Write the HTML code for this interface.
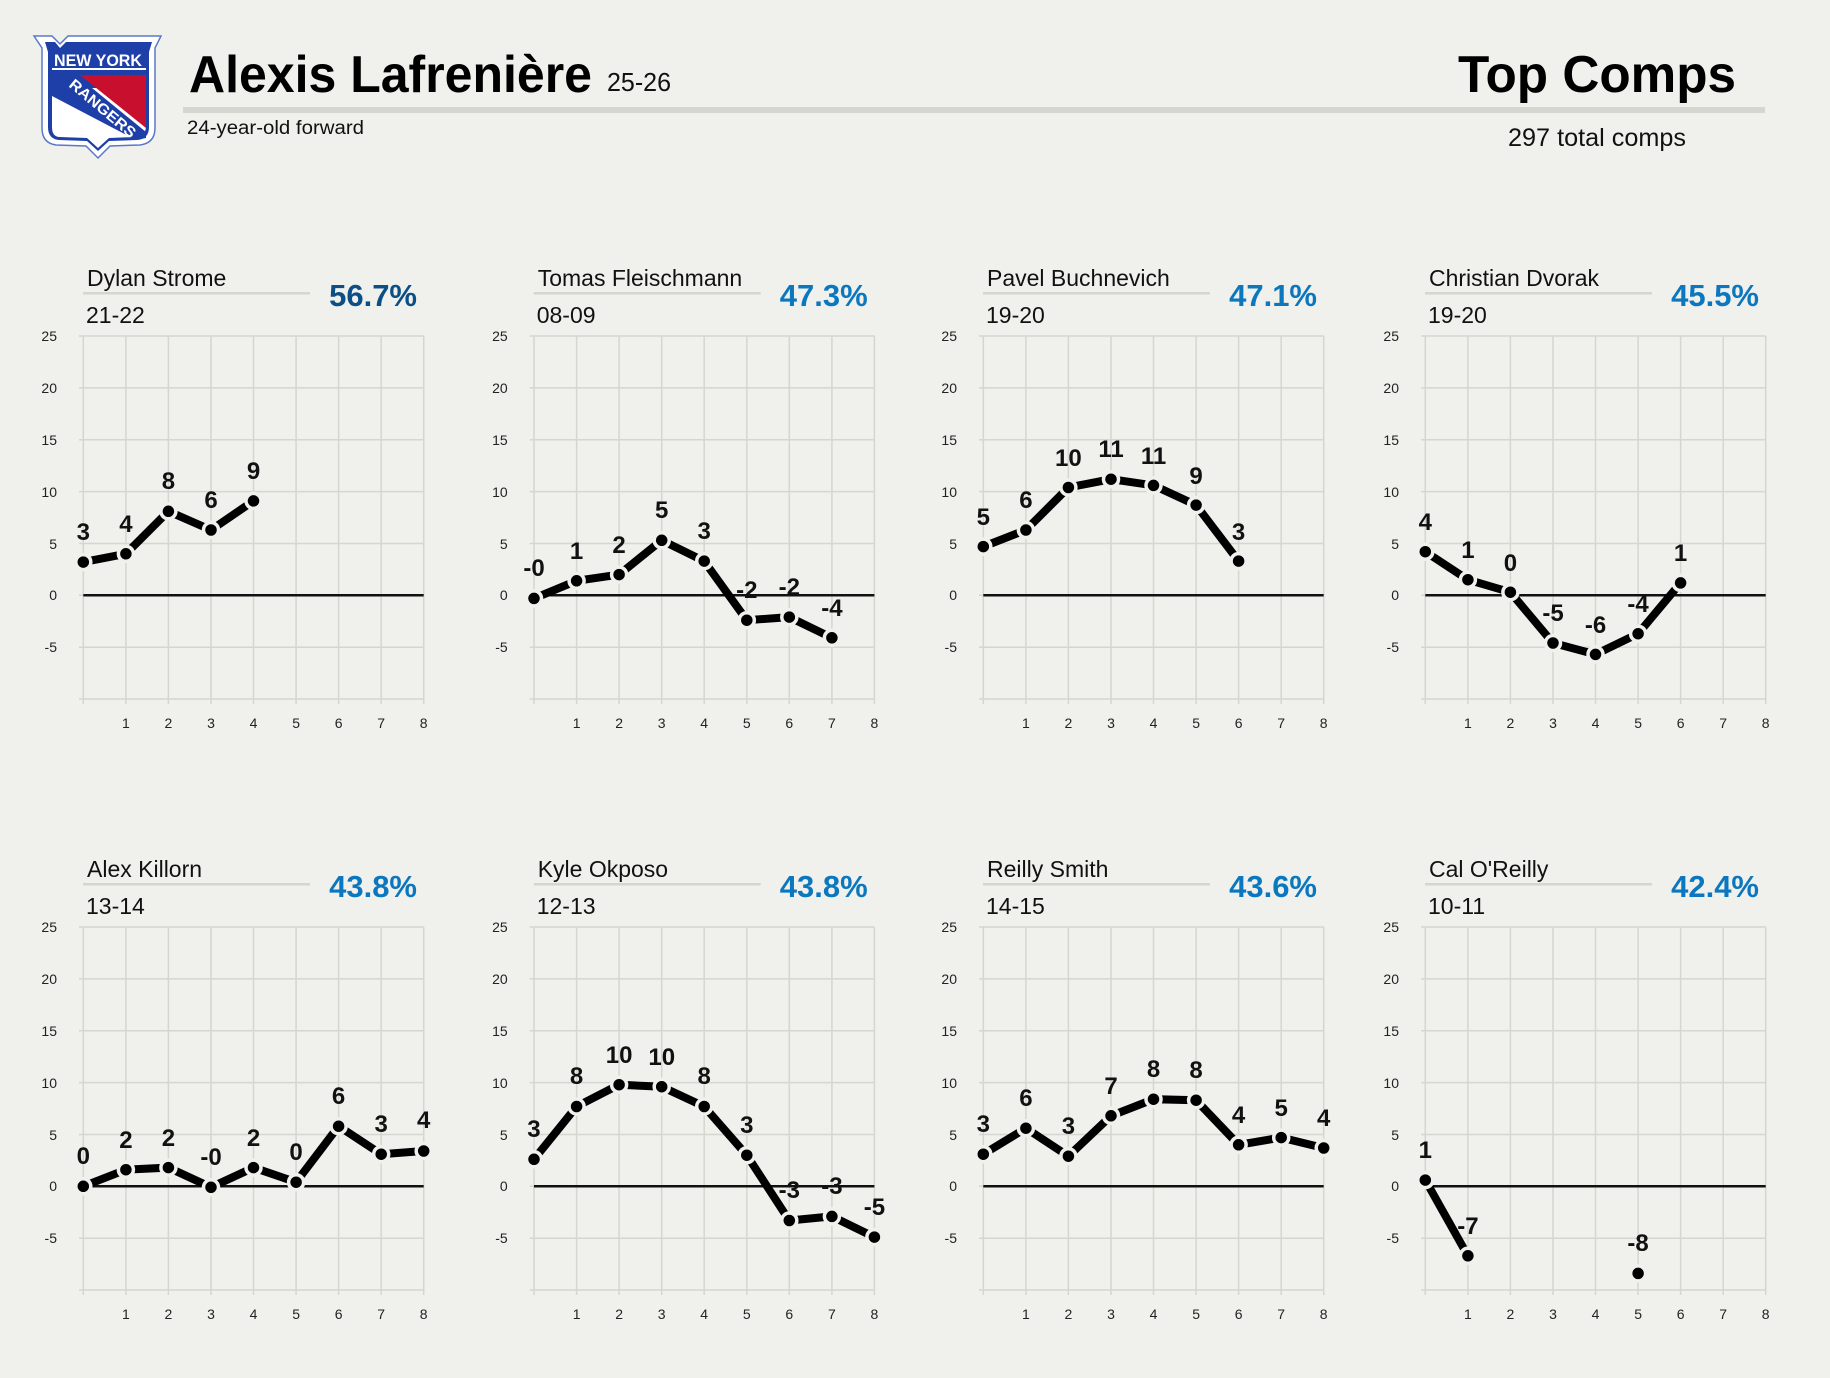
<!DOCTYPE html>
<html><head><meta charset="utf-8"><style>
html,body{margin:0;padding:0;background:#f0f0ec}
svg{display:block}
text{font-family:"Liberation Sans",sans-serif}
.yl{font-size:14px;text-anchor:end;fill:#222}
.xl{font-size:14px;text-anchor:middle;fill:#222}
.nm{font-size:23px;fill:#111}
.pc{font-size:31px;font-weight:bold;text-anchor:end;fill:#0a77bf}
.lb{font-size:24px;font-weight:bold;text-anchor:middle;fill:#111}
.ln{fill:none;stroke:#000;stroke-width:8}
.dt circle{fill:#000;stroke:#f0f0ec;stroke-width:3.5}
</style></head><body>
<svg width="1830" height="1378" viewBox="0 0 1830 1378" xmlns="http://www.w3.org/2000/svg">
<defs>
<g id="grid">
 <g stroke="#d6d6d0" stroke-width="1.5">
  <line x1="83.3" y1="336" x2="83.3" y2="704"/><line x1="125.9" y1="336" x2="125.9" y2="704"/><line x1="168.4" y1="336" x2="168.4" y2="704"/><line x1="211" y1="336" x2="211" y2="704"/><line x1="253.5" y1="336" x2="253.5" y2="704"/><line x1="296.1" y1="336" x2="296.1" y2="704"/><line x1="338.6" y1="336" x2="338.6" y2="704"/><line x1="381.2" y1="336" x2="381.2" y2="704"/><line x1="423.7" y1="336" x2="423.7" y2="704"/>
  <line x1="79" y1="336" x2="423.7" y2="336"/><line x1="79" y1="387.9" x2="423.7" y2="387.9"/><line x1="79" y1="439.8" x2="423.7" y2="439.8"/><line x1="79" y1="491.6" x2="423.7" y2="491.6"/><line x1="79" y1="543.5" x2="423.7" y2="543.5"/><line x1="79" y1="595.3" x2="423.7" y2="595.3"/><line x1="79" y1="647.2" x2="423.7" y2="647.2"/><line x1="79" y1="699" x2="423.7" y2="699"/>
 </g>
 <line x1="83.3" y1="595.3" x2="423.7" y2="595.3" stroke="#111" stroke-width="2.5"/>
</g>
</defs>

<g>
 <path d="M34,36 L52,36 L60,44 L68,36 L150,36 L161,36 L155,48 L155,128 Q155,143 140,145 L110,146 L98,158 L86,146 L56,145 Q42,143 42,128 L42,48 Z" fill="#fff" stroke="#5a78c8" stroke-width="1.5"/>
 <path d="M45,42 L55,42 L60,48 L66,42 L152,42 L149,52 L149,127 Q149,139 137,140 L109,141 L98,151 L87,141 L59,140 Q48,139 48,127 L48,52 Z" fill="#1f3fa8"/>
 <path d="M52,88 L146,88 L146,125 Q146,137 136,137 L109,138 L98,148 L87,138 L60,137 Q52,137 52,127 Z" fill="#fff"/>
 <path d="M80,75 L146,75 L146,128 Z" fill="#c8102e"/>
 <path d="M52,84 L70,70 L146,132 L146,138 L136,140 L52,96 Z" fill="#1f3fa8"/>
 <line x1="52" y1="69" x2="146" y2="69" stroke="#fff" stroke-width="2"/>
 <text x="98" y="66" font-size="17" font-weight="bold" fill="#fff" text-anchor="middle" textLength="88" lengthAdjust="spacingAndGlyphs">NEW YORK</text>
 <text x="0" y="0" font-size="15" font-weight="bold" fill="#fff" transform="translate(68,86) rotate(40)" textLength="82" lengthAdjust="spacingAndGlyphs">RANGERS</text>

 <text x="189" y="92" font-size="52" font-weight="bold" fill="#000" textLength="403" lengthAdjust="spacingAndGlyphs">Alexis Lafrenière</text>
 <text x="607" y="91" font-size="26" fill="#111" textLength="64" lengthAdjust="spacingAndGlyphs">25-26</text>
 <rect x="183" y="107" width="1582" height="6" fill="#d6d6d0"/>
 <text x="187" y="134" font-size="19" fill="#111" textLength="177" lengthAdjust="spacingAndGlyphs">24-year-old forward</text>
 <text x="1458" y="92" font-size="52" font-weight="bold" fill="#000" textLength="278" lengthAdjust="spacingAndGlyphs">Top Comps</text>
 <text x="1508" y="146" font-size="25" fill="#111" textLength="178" lengthAdjust="spacingAndGlyphs">297 total comps</text>
</g>

<g>
 <use href="#grid"/>
 <text class="nm" x="87" y="286">Dylan Strome</text><rect x="83" y="292" width="227" height="2.5" fill="#d6d6d0"/>
 <text class="nm" x="86" y="323">21-22</text><text class="pc" x="417" y="306" style="fill:#0c4f87">56.7%</text>
 <text class="yl" x="57" y="341">25</text><text class="yl" x="57" y="393">20</text><text class="yl" x="57" y="445">15</text><text class="yl" x="57" y="497">10</text><text class="yl" x="57" y="549">5</text><text class="yl" x="57" y="600">0</text><text class="yl" x="57" y="652">-5</text>
 <text class="xl" x="125.9" y="728">1</text><text class="xl" x="168.4" y="728">2</text><text class="xl" x="211" y="728">3</text><text class="xl" x="253.5" y="728">4</text><text class="xl" x="296.1" y="728">5</text><text class="xl" x="338.6" y="728">6</text><text class="xl" x="381.2" y="728">7</text><text class="xl" x="423.7" y="728">8</text>
 <text class="lb" x="83.3" y="540">3</text><text class="lb" x="125.9" y="532">4</text><text class="lb" x="168.4" y="489">8</text><text class="lb" x="211" y="508">6</text><text class="lb" x="253.5" y="479">9</text>
 <polyline class="ln" points="83.3,562.1 125.9,553.8 168.4,511.3 211,530 253.5,500.9"/>
 <g class="dt"><circle cx="83.3" cy="562.1" r="7.5"/><circle cx="125.9" cy="553.8" r="7.5"/><circle cx="168.4" cy="511.3" r="7.5"/><circle cx="211" cy="530" r="7.5"/><circle cx="253.5" cy="500.9" r="7.5"/></g>
</g>

<g transform="translate(450.7,0)">
 <use href="#grid"/>
 <text class="nm" x="87" y="286">Tomas Fleischmann</text><rect x="83" y="292" width="227" height="2.5" fill="#d6d6d0"/>
 <text class="nm" x="86" y="323">08-09</text><text class="pc" x="417" y="306">47.3%</text>
 <text class="yl" x="57" y="341">25</text><text class="yl" x="57" y="393">20</text><text class="yl" x="57" y="445">15</text><text class="yl" x="57" y="497">10</text><text class="yl" x="57" y="549">5</text><text class="yl" x="57" y="600">0</text><text class="yl" x="57" y="652">-5</text>
 <text class="xl" x="125.9" y="728">1</text><text class="xl" x="168.4" y="728">2</text><text class="xl" x="211" y="728">3</text><text class="xl" x="253.5" y="728">4</text><text class="xl" x="296.1" y="728">5</text><text class="xl" x="338.6" y="728">6</text><text class="xl" x="381.2" y="728">7</text><text class="xl" x="423.7" y="728">8</text>
 <text class="lb" x="83.3" y="576">-0</text><text class="lb" x="125.9" y="559">1</text><text class="lb" x="168.4" y="553">2</text><text class="lb" x="211" y="518">5</text><text class="lb" x="253.5" y="539">3</text><text class="lb" x="296.1" y="598">-2</text><text class="lb" x="338.6" y="595">-2</text><text class="lb" x="381.2" y="616">-4</text>
 <polyline class="ln" points="83.3,598.4 125.9,580.8 168.4,574.6 211,540.3 253.5,561.1 296.1,620.2 338.6,617.1 381.2,637.8"/>
 <g class="dt"><circle cx="83.3" cy="598.4" r="7.5"/><circle cx="125.9" cy="580.8" r="7.5"/><circle cx="168.4" cy="574.6" r="7.5"/><circle cx="211" cy="540.3" r="7.5"/><circle cx="253.5" cy="561.1" r="7.5"/><circle cx="296.1" cy="620.2" r="7.5"/><circle cx="338.6" cy="617.1" r="7.5"/><circle cx="381.2" cy="637.8" r="7.5"/></g>
</g>

<g transform="translate(900,0)">
 <use href="#grid"/>
 <text class="nm" x="87" y="286">Pavel Buchnevich</text><rect x="83" y="292" width="227" height="2.5" fill="#d6d6d0"/>
 <text class="nm" x="86" y="323">19-20</text><text class="pc" x="417" y="306">47.1%</text>
 <text class="yl" x="57" y="341">25</text><text class="yl" x="57" y="393">20</text><text class="yl" x="57" y="445">15</text><text class="yl" x="57" y="497">10</text><text class="yl" x="57" y="549">5</text><text class="yl" x="57" y="600">0</text><text class="yl" x="57" y="652">-5</text>
 <text class="xl" x="125.9" y="728">1</text><text class="xl" x="168.4" y="728">2</text><text class="xl" x="211" y="728">3</text><text class="xl" x="253.5" y="728">4</text><text class="xl" x="296.1" y="728">5</text><text class="xl" x="338.6" y="728">6</text><text class="xl" x="381.2" y="728">7</text><text class="xl" x="423.7" y="728">8</text>
 <text class="lb" x="83.3" y="525">5</text><text class="lb" x="125.9" y="508">6</text><text class="lb" x="168.4" y="466">10</text><text class="lb" x="211" y="457">11</text><text class="lb" x="253.5" y="464">11</text><text class="lb" x="296.1" y="484">9</text><text class="lb" x="338.6" y="540">3</text>
 <polyline class="ln" points="83.3,546.6 125.9,530 168.4,487.5 211,479.2 253.5,485.4 296.1,505.1 338.6,561.1"/>
 <g class="dt"><circle cx="83.3" cy="546.6" r="7.5"/><circle cx="125.9" cy="530" r="7.5"/><circle cx="168.4" cy="487.5" r="7.5"/><circle cx="211" cy="479.2" r="7.5"/><circle cx="253.5" cy="485.4" r="7.5"/><circle cx="296.1" cy="505.1" r="7.5"/><circle cx="338.6" cy="561.1" r="7.5"/></g>
</g>

<g transform="translate(1342,0)">
 <use href="#grid"/>
 <text class="nm" x="87" y="286">Christian Dvorak</text><rect x="83" y="292" width="227" height="2.5" fill="#d6d6d0"/>
 <text class="nm" x="86" y="323">19-20</text><text class="pc" x="417" y="306">45.5%</text>
 <text class="yl" x="57" y="341">25</text><text class="yl" x="57" y="393">20</text><text class="yl" x="57" y="445">15</text><text class="yl" x="57" y="497">10</text><text class="yl" x="57" y="549">5</text><text class="yl" x="57" y="600">0</text><text class="yl" x="57" y="652">-5</text>
 <text class="xl" x="125.9" y="728">1</text><text class="xl" x="168.4" y="728">2</text><text class="xl" x="211" y="728">3</text><text class="xl" x="253.5" y="728">4</text><text class="xl" x="296.1" y="728">5</text><text class="xl" x="338.6" y="728">6</text><text class="xl" x="381.2" y="728">7</text><text class="xl" x="423.7" y="728">8</text>
 <text class="lb" x="83.3" y="530">4</text><text class="lb" x="125.9" y="558">1</text><text class="lb" x="168.4" y="571">0</text><text class="lb" x="211" y="621">-5</text><text class="lb" x="253.5" y="633">-6</text><text class="lb" x="296.1" y="612">-4</text><text class="lb" x="338.6" y="561">1</text>
 <polyline class="ln" points="83.3,551.7 125.9,579.7 168.4,592.2 211,643 253.5,654.4 296.1,633.7 338.6,582.9"/>
 <g class="dt"><circle cx="83.3" cy="551.7" r="7.5"/><circle cx="125.9" cy="579.7" r="7.5"/><circle cx="168.4" cy="592.2" r="7.5"/><circle cx="211" cy="643" r="7.5"/><circle cx="253.5" cy="654.4" r="7.5"/><circle cx="296.1" cy="633.7" r="7.5"/><circle cx="338.6" cy="582.9" r="7.5"/></g>
</g>

<g transform="translate(0,591)">
 <use href="#grid"/>
 <text class="nm" x="87" y="286">Alex Killorn</text><rect x="83" y="292" width="227" height="2.5" fill="#d6d6d0"/>
 <text class="nm" x="86" y="323">13-14</text><text class="pc" x="417" y="306">43.8%</text>
 <text class="yl" x="57" y="341">25</text><text class="yl" x="57" y="393">20</text><text class="yl" x="57" y="445">15</text><text class="yl" x="57" y="497">10</text><text class="yl" x="57" y="549">5</text><text class="yl" x="57" y="600">0</text><text class="yl" x="57" y="652">-5</text>
 <text class="xl" x="125.9" y="728">1</text><text class="xl" x="168.4" y="728">2</text><text class="xl" x="211" y="728">3</text><text class="xl" x="253.5" y="728">4</text><text class="xl" x="296.1" y="728">5</text><text class="xl" x="338.6" y="728">6</text><text class="xl" x="381.2" y="728">7</text><text class="xl" x="423.7" y="728">8</text>
 <text class="lb" x="83.3" y="573">0</text><text class="lb" x="125.9" y="557">2</text><text class="lb" x="168.4" y="555">2</text><text class="lb" x="211" y="574">-0</text><text class="lb" x="253.5" y="555">2</text><text class="lb" x="296.1" y="569">0</text><text class="lb" x="338.6" y="513">6</text><text class="lb" x="381.2" y="541">3</text><text class="lb" x="423.7" y="537">4</text>
 <polyline class="ln" points="83.3,595.3 125.9,578.7 168.4,576.6 211,596.3 253.5,576.6 296.1,591.2 338.6,535.2 381.2,563.2 423.7,560"/>
 <g class="dt"><circle cx="83.3" cy="595.3" r="7.5"/><circle cx="125.9" cy="578.7" r="7.5"/><circle cx="168.4" cy="576.6" r="7.5"/><circle cx="211" cy="596.3" r="7.5"/><circle cx="253.5" cy="576.6" r="7.5"/><circle cx="296.1" cy="591.2" r="7.5"/><circle cx="338.6" cy="535.2" r="7.5"/><circle cx="381.2" cy="563.2" r="7.5"/><circle cx="423.7" cy="560" r="7.5"/></g>
</g>

<g transform="translate(450.7,591)">
 <use href="#grid"/>
 <text class="nm" x="87" y="286">Kyle Okposo</text><rect x="83" y="292" width="227" height="2.5" fill="#d6d6d0"/>
 <text class="nm" x="86" y="323">12-13</text><text class="pc" x="417" y="306">43.8%</text>
 <text class="yl" x="57" y="341">25</text><text class="yl" x="57" y="393">20</text><text class="yl" x="57" y="445">15</text><text class="yl" x="57" y="497">10</text><text class="yl" x="57" y="549">5</text><text class="yl" x="57" y="600">0</text><text class="yl" x="57" y="652">-5</text>
 <text class="xl" x="125.9" y="728">1</text><text class="xl" x="168.4" y="728">2</text><text class="xl" x="211" y="728">3</text><text class="xl" x="253.5" y="728">4</text><text class="xl" x="296.1" y="728">5</text><text class="xl" x="338.6" y="728">6</text><text class="xl" x="381.2" y="728">7</text><text class="xl" x="423.7" y="728">8</text>
 <text class="lb" x="83.3" y="546">3</text><text class="lb" x="125.9" y="493">8</text><text class="lb" x="168.4" y="472">10</text><text class="lb" x="211" y="474">10</text><text class="lb" x="253.5" y="493">8</text><text class="lb" x="296.1" y="542">3</text><text class="lb" x="338.6" y="607">-3</text><text class="lb" x="381.2" y="603">-3</text><text class="lb" x="423.7" y="624">-5</text>
 <polyline class="ln" points="83.3,568.3 125.9,515.5 168.4,493.7 211,495.7 253.5,515.5 296.1,564.2 338.6,629.5 381.2,625.4 423.7,646.1"/>
 <g class="dt"><circle cx="83.3" cy="568.3" r="7.5"/><circle cx="125.9" cy="515.5" r="7.5"/><circle cx="168.4" cy="493.7" r="7.5"/><circle cx="211" cy="495.7" r="7.5"/><circle cx="253.5" cy="515.5" r="7.5"/><circle cx="296.1" cy="564.2" r="7.5"/><circle cx="338.6" cy="629.5" r="7.5"/><circle cx="381.2" cy="625.4" r="7.5"/><circle cx="423.7" cy="646.1" r="7.5"/></g>
</g>

<g transform="translate(900,591)">
 <use href="#grid"/>
 <text class="nm" x="87" y="286">Reilly Smith</text><rect x="83" y="292" width="227" height="2.5" fill="#d6d6d0"/>
 <text class="nm" x="86" y="323">14-15</text><text class="pc" x="417" y="306">43.6%</text>
 <text class="yl" x="57" y="341">25</text><text class="yl" x="57" y="393">20</text><text class="yl" x="57" y="445">15</text><text class="yl" x="57" y="497">10</text><text class="yl" x="57" y="549">5</text><text class="yl" x="57" y="600">0</text><text class="yl" x="57" y="652">-5</text>
 <text class="xl" x="125.9" y="728">1</text><text class="xl" x="168.4" y="728">2</text><text class="xl" x="211" y="728">3</text><text class="xl" x="253.5" y="728">4</text><text class="xl" x="296.1" y="728">5</text><text class="xl" x="338.6" y="728">6</text><text class="xl" x="381.2" y="728">7</text><text class="xl" x="423.7" y="728">8</text>
 <text class="lb" x="83.3" y="541">3</text><text class="lb" x="125.9" y="515">6</text><text class="lb" x="168.4" y="543">3</text><text class="lb" x="211" y="503">7</text><text class="lb" x="253.5" y="486">8</text><text class="lb" x="296.1" y="487">8</text><text class="lb" x="338.6" y="532">4</text><text class="lb" x="381.2" y="525">5</text><text class="lb" x="423.7" y="535">4</text>
 <polyline class="ln" points="83.3,563.2 125.9,537.2 168.4,565.2 211,524.8 253.5,508.2 296.1,509.2 338.6,553.8 381.2,546.6 423.7,557"/>
 <g class="dt"><circle cx="83.3" cy="563.2" r="7.5"/><circle cx="125.9" cy="537.2" r="7.5"/><circle cx="168.4" cy="565.2" r="7.5"/><circle cx="211" cy="524.8" r="7.5"/><circle cx="253.5" cy="508.2" r="7.5"/><circle cx="296.1" cy="509.2" r="7.5"/><circle cx="338.6" cy="553.8" r="7.5"/><circle cx="381.2" cy="546.6" r="7.5"/><circle cx="423.7" cy="557" r="7.5"/></g>
</g>

<g transform="translate(1342,591)">
 <use href="#grid"/>
 <text class="nm" x="87" y="286">Cal O'Reilly</text><rect x="83" y="292" width="227" height="2.5" fill="#d6d6d0"/>
 <text class="nm" x="86" y="323">10-11</text><text class="pc" x="417" y="306">42.4%</text>
 <text class="yl" x="57" y="341">25</text><text class="yl" x="57" y="393">20</text><text class="yl" x="57" y="445">15</text><text class="yl" x="57" y="497">10</text><text class="yl" x="57" y="549">5</text><text class="yl" x="57" y="600">0</text><text class="yl" x="57" y="652">-5</text>
 <text class="xl" x="125.9" y="728">1</text><text class="xl" x="168.4" y="728">2</text><text class="xl" x="211" y="728">3</text><text class="xl" x="253.5" y="728">4</text><text class="xl" x="296.1" y="728">5</text><text class="xl" x="338.6" y="728">6</text><text class="xl" x="381.2" y="728">7</text><text class="xl" x="423.7" y="728">8</text>
 <text class="lb" x="83.3" y="567">1</text><text class="lb" x="125.9" y="643">-7</text><text class="lb" x="296.1" y="660">-8</text>
 <polyline class="ln" points="83.3,589.1 125.9,664.8"/>
 <g class="dt"><circle cx="83.3" cy="589.1" r="7.5"/><circle cx="125.9" cy="664.8" r="7.5"/><circle cx="296.1" cy="682.4" r="7.5"/></g>
</g>
</svg>
</body></html>
